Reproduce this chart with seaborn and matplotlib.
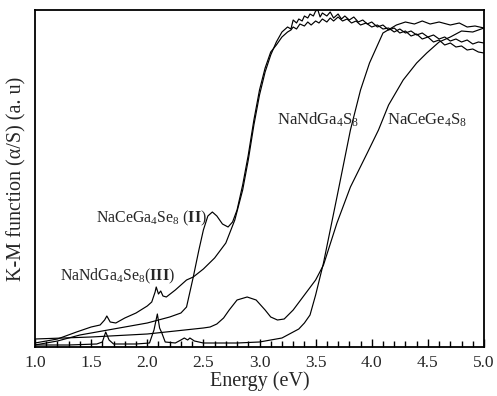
import numpy as np
import pandas as pd
import matplotlib
matplotlib.use("Agg")
import matplotlib.pyplot as plt
import seaborn as sns
from matplotlib.ticker import MultipleLocator, FormatStrFormatter

# ---------------- data (K-M function, arbitrary units) ----------------
# NaNdGa4S8
e_ndgas = [1.0, 1.3, 1.55, 1.6, 1.63, 1.66, 1.7, 1.9, 2.02, 2.06, 2.09, 2.11, 2.13, 2.16,
           2.25, 2.3, 2.33, 2.36, 2.38, 2.42, 2.5, 2.8, 3.0, 3.2, 3.35, 3.4, 3.45, 3.5,
           3.57, 3.69, 3.81, 3.9, 3.98, 4.1, 4.22, 4.3, 4.38, 4.45, 4.52, 4.6, 4.7,
           4.78, 4.85, 4.92, 5.0]
v_ndgas = [2, 2, 3, 5, 15, 7, 3, 3, 4, 17, 33, 19, 14, 5,
           4, 7, 9, 7, 9, 6, 4, 4, 5, 9, 18, 24, 32, 52,
           84, 150, 217, 257, 284, 314, 322, 325, 323, 326, 323, 325, 322,
           324, 320, 321, 319]

# NaCeGe4S8
e_cege = [1.0, 1.5, 2.0, 2.5, 2.56, 2.62, 2.68, 2.73, 2.8, 2.89, 2.97, 3.05, 3.1, 3.16,
          3.22, 3.3, 3.4, 3.5, 3.57, 3.69, 3.81, 3.96, 4.06, 4.15, 4.28, 4.4, 4.49,
          4.6, 4.7, 4.8, 4.9, 5.0]
v_cege = [8, 10, 13, 19, 20, 23, 29, 37, 47, 50, 47, 37, 30, 27,
          28, 37, 52, 67, 82, 124, 160, 194, 217, 242, 267, 284, 294,
          305, 310, 316, 315, 319]

# NaCeGa4Se8 (II)
e_ceGaSe = [1.0, 1.2, 1.4, 1.6, 1.8, 2.0, 2.2, 2.3, 2.35, 2.41, 2.46, 2.5, 2.54, 2.58,
            2.62, 2.67, 2.72, 2.76, 2.8, 2.85, 2.9, 2.95, 3.0, 3.05, 3.1, 3.15,
            3.2, 3.25, 3.28, 3.3, 3.33, 3.36, 3.4, 3.43, 3.46, 3.5, 3.53, 3.56,
            3.6, 3.63, 3.66, 3.7, 3.74, 3.78, 3.82, 3.86, 3.9, 3.95, 4.0, 4.05,
            4.1, 4.15, 4.2, 4.25, 4.3, 4.35, 4.4, 4.45, 4.5, 4.55, 4.6, 4.65,
            4.7, 4.75, 4.8, 4.85, 4.9, 4.95, 5.0]
v_ceGaSe = [2, 6, 12, 16, 20, 24, 30, 34, 40, 70, 97, 117, 131, 135,
            131, 123, 120, 125, 137, 162, 192, 227, 257, 279, 295, 302,
            310, 315, 317, 320, 318, 323, 321, 325, 322, 326, 324, 328,
            325, 329, 326, 330, 326, 328, 324, 326, 322, 324, 320, 322,
            318, 319, 315, 318, 314, 316, 312, 314, 310, 312, 308, 310,
            306, 308, 305, 307, 303, 305, 304]

# NaNdGa4Se8 (III)
e_ndGaSe = [1.0, 1.2, 1.37, 1.5, 1.58, 1.62, 1.64, 1.67, 1.72, 1.8, 1.9, 2.0, 2.04,
            2.07, 2.08, 2.1, 2.12, 2.14, 2.17, 2.25, 2.35, 2.41, 2.5, 2.6, 2.7,
            2.78, 2.85, 2.9, 2.95, 3.0, 3.05, 3.1, 3.15, 3.2, 3.25, 3.28, 3.3,
            3.33, 3.35, 3.38, 3.4, 3.43, 3.45, 3.48, 3.5, 3.52, 3.54, 3.56, 3.6,
            3.63, 3.66, 3.7, 3.73, 3.76, 3.8, 3.84, 3.88, 3.92, 3.96, 4.0, 4.05,
            4.1, 4.15, 4.2, 4.25, 4.3, 4.35, 4.4, 4.45, 4.5, 4.55, 4.6, 4.65,
            4.7, 4.75, 4.8, 4.85, 4.9, 4.95, 5.0]
v_ndGaSe = [4, 8, 15, 20, 22, 27, 31, 25, 24, 29, 34, 41, 45,
            55, 60, 53, 56, 51, 50, 57, 67, 70, 78, 89, 104,
            127, 157, 187, 222, 252, 275, 292, 305, 315, 320, 318, 327,
            324, 328, 326, 331, 329, 333, 331, 336, 337, 330, 334, 331,
            335, 329, 333, 328, 331, 327, 330, 325, 327, 323, 325, 320,
            322, 317, 319, 314, 316, 311, 313, 308, 310, 305, 307, 302,
            304, 300, 301, 297, 298, 295, 294]

tick_vals = [1.0, 1.5, 2.0, 2.5, 3.0, 3.5, 4.0, 4.5, 5.0]

labels = {
    "II": "NaCeGa$_4$Se$_8$ ($\\mathbf{II}$)",
    "III": "NaNdGa$_4$Se$_8$($\\mathbf{III}$)",
    "S": "NaNdGa$_4$S$_8$",
    "Ge": "NaCeGe$_4$S$_8$",
}

# ---------------- styling ----------------
sns.set_style("ticks")
plt.rcParams["font.family"] = ["Liberation Serif", "DejaVu Serif"]
plt.rcParams["mathtext.fontset"] = "custom"
plt.rcParams["mathtext.rm"] = "Liberation Serif"
plt.rcParams["mathtext.it"] = "Liberation Serif:italic"
plt.rcParams["mathtext.bf"] = "Liberation Serif:bold"

fig = plt.figure(figsize=(4.97, 3.96), dpi=100)
ax = fig.add_axes([35 / 497, 1 - 347 / 396, (484 - 35) / 497, (347 - 10) / 396])

series = [(e_ndgas, v_ndgas), (e_cege, v_cege), (e_ceGaSe, v_ceGaSe), (e_ndGaSe, v_ndGaSe)]
for e, v in series:
    df = pd.DataFrame({"E": e, "KM": v})
    sns.lineplot(data=df, x="E", y="KM", ax=ax, color="black", lw=0.85,
                 sort=False, estimator=None)

ax.set_xlim(1.0, 5.0)
ax.set_ylim(0, 337)
ax.set_xticks(tick_vals)
ax.xaxis.set_major_formatter(FormatStrFormatter("%.1f"))
ax.xaxis.set_minor_locator(MultipleLocator(0.1))
ax.set_yticks([])
ax.tick_params(axis="x", which="major", direction="in", length=6, width=1.0,
               labelsize=12.5, pad=6, top=False, color="black")
ax.tick_params(axis="x", which="minor", direction="in", length=4, width=1.0,
               top=False, color="black")
for sp in ax.spines.values():
    sp.set_visible(True)
    sp.set_linewidth(1.3)
    sp.set_color("black")

ax.set_xlabel("Energy (eV)", fontsize=14.5, labelpad=0)
ax.set_ylabel("K-M function (\u03b1/S) (a. u)", fontsize=14.5, labelpad=6)

ax.text(1.54, 129, labels["II"], fontsize=11.4, ha="left", va="center")
ax.text(1.22, 71, labels["III"], fontsize=11.4, ha="left", va="center")
ax.text(3.16, 227, labels["S"], fontsize=12, ha="left", va="center")
ax.text(4.14, 227, labels["Ge"], fontsize=12, ha="left", va="center")

fig.savefig("out.png", dpi=100)
